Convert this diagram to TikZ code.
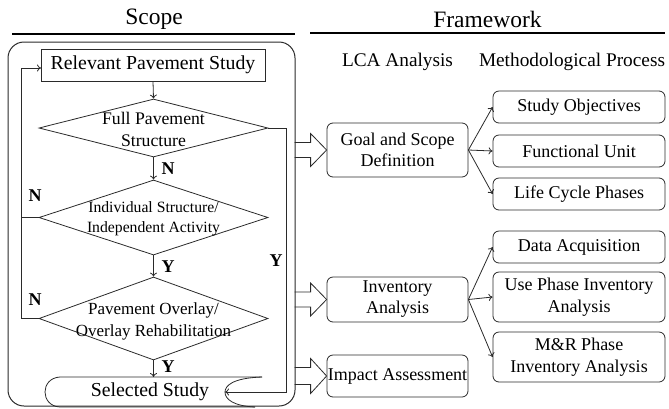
\documentclass[tikz,border=0pt]{standalone}
\usepackage{fontspec}
\setmainfont{Liberation Serif}
\usetikzlibrary{shapes.geometric,arrows.meta,calc}
\newcommand\fsz[2]{\fontsize{#1}{#2}\selectfont}
\definecolor{lc}{HTML}{2A2A2A}
\begin{document}
\begin{tikzpicture}[x=1pt,y=-1pt,
  ln/.style={draw=lc, line width=0.8pt},
  arr/.style={-{To[length=4pt,width=7pt]}},
  rbox/.style={ln, rectangle, rounded corners=6pt, minimum width=141pt, align=center, inner sep=0pt, font=\fsz{18}{21}},
  mbox/.style={rbox, minimum width=172pt, font=\fsz{18}{21.5}},
  dia/.style={ln, diamond, minimum width=229pt, inner sep=0pt},
  lab/.style={font=\bfseries\fsz{18}{20}, inner sep=0pt},
  hol/.style={ln, line join=miter},
  title/.style={font=\fsz{23.5}{26}},
  head/.style={font=\fsz{19.3}{22}}]
\useasboundingbox (0,0) rectangle (669,408);
\newcommand\hollowto[2]{\draw[hol] ($(#1.west)+(-32,-#2)$) -- ++(16,0) -- ++(0,-9) -- (#1.west) -- ++(-16,{#2+9}) -- ++(0,-9) -- ++(-16,0);}

% titles
\node[title] (tscope) at (154,19) {Scope};
\node[title] (tframe) at (487.5,19) {Framework};
\draw[line width=1.8pt] (12,34) -- (295,34);
\draw[line width=1.8pt] (310,33) -- (665,33);
\node[head] (hlca) at (397.5,62) {LCA Analysis};
\node[head] (hmeth) at (572,62) {Methodological Process};

% scope frame
\node[draw=lc, line width=1pt, rounded corners=16pt, minimum width=287pt, minimum height=364pt, inner sep=0pt] (scope) at (151.5,224) {};

% flowchart
\node[rbox, rounded corners=0pt, minimum width=224pt, minimum height=32pt, font=\fsz{19.8}{22}] (rps) at (153,65) {Relevant Pavement Study};
\node[dia, minimum height=58pt] (d1) at (153.5,128) {};
\node[font=\fsz{17.7}{22}, align=center, inner sep=0pt] (t1) at (153.5,129.5) {Full Pavement\\Structure};
\node[dia, minimum height=75pt] (d2) at (153.5,217.5) {};
\node[font=\fsz{15.7}{20}, align=center, inner sep=0pt] (t2) at (153.5,219) {Individual Structure/\\Independent Activity};
\node[dia, minimum height=83pt] (d3) at (153.5,318.5) {};
\node[font=\fsz{17}{22}, align=center, inner sep=0pt] (t3) at (153.5,321) {Pavement Overlay/\\Overlay Rehabilitation};

% selected study shape
\draw[ln] (262,377) -- (60,377) .. controls (40,378) and (40,406) .. (60,407) -- (255,407);
\draw[ln] (262,377) .. controls (232,378) and (225,386) .. (225,392) .. controls (225,399) and (233,406) .. (255,407);
\node[font=\fsz{19.8}{22}, inner sep=0pt] (ss) at (150,392) {Selected Study};
\coordinate (ssr) at (225,392);
\coordinate (sst) at (153.5,377);
\coordinate (yc) at (286,392);
\coordinate (lc) at (21,318.5);
\coordinate (rpsin) at (41,68);

\draw[ln,arr] (rps.south) -- (d1.north);
\draw[ln,arr] (d1.south) -- (d2.north);
\draw[ln,arr] (d2.south) -- (d3.north);
\draw[ln,arr] (d3.south) -- (sst);
\draw[ln,arr] (d1.east) -| (yc) -- (ssr);
\draw[ln,arr] (d3.west) -- (lc) |- (rpsin);
\draw[ln] (d2.west) -- (d2.west -| lc);

\node[lab] (n1) at (168,169) {N};
\node[lab] (n2) at (35,196) {N};
\node[lab] (n3) at (35,300) {N};
\node[lab] (y1) at (168,267) {Y};
\node[lab] (y2) at (168,367) {Y};
\node[lab] (y3) at (276,261) {Y};

% framework boxes
\node[rbox, minimum height=54pt] (goal) at (397.5,150) {Goal and Scope\\Definition};
\node[rbox, minimum height=45pt] (inv) at (397.5,299.5) {Inventory\\Analysis};
\node[rbox, minimum height=42pt] (imp) at (397.5,376) {Impact Assessment};

\node[mbox, minimum height=32pt] (so) at (579,107) {Study Objectives};
\node[mbox, minimum height=32pt] (fu) at (579,151) {Functional Unit};
\node[mbox, minimum height=32pt] (lcp) at (579,194) {Life Cycle Phases};
\node[mbox, minimum height=32pt] (da) at (579,247) {Data Acquisition};
\node[mbox, minimum height=50pt] (up) at (579,297) {Use Phase Inventory\\Analysis};
\node[mbox, minimum height=50pt] (mr) at (579,357) {M\&R Phase\\Inventory Analysis};

\draw[ln,arr] (goal.east) -- (so.west);
\draw[ln,arr] (goal.east) -- (fu.west);
\draw[ln,arr] (goal.east) -- (lcp.west);
\draw[ln,arr] (inv.east) -- (da.west);
\draw[ln,arr] (inv.east) -- (up.west);
\draw[ln,arr] (inv.east) -- (mr.west);

\hollowto{goal}{7.5}
\hollowto{inv}{7.5}
\hollowto{imp}{8.5}
\end{tikzpicture}
\end{document}
